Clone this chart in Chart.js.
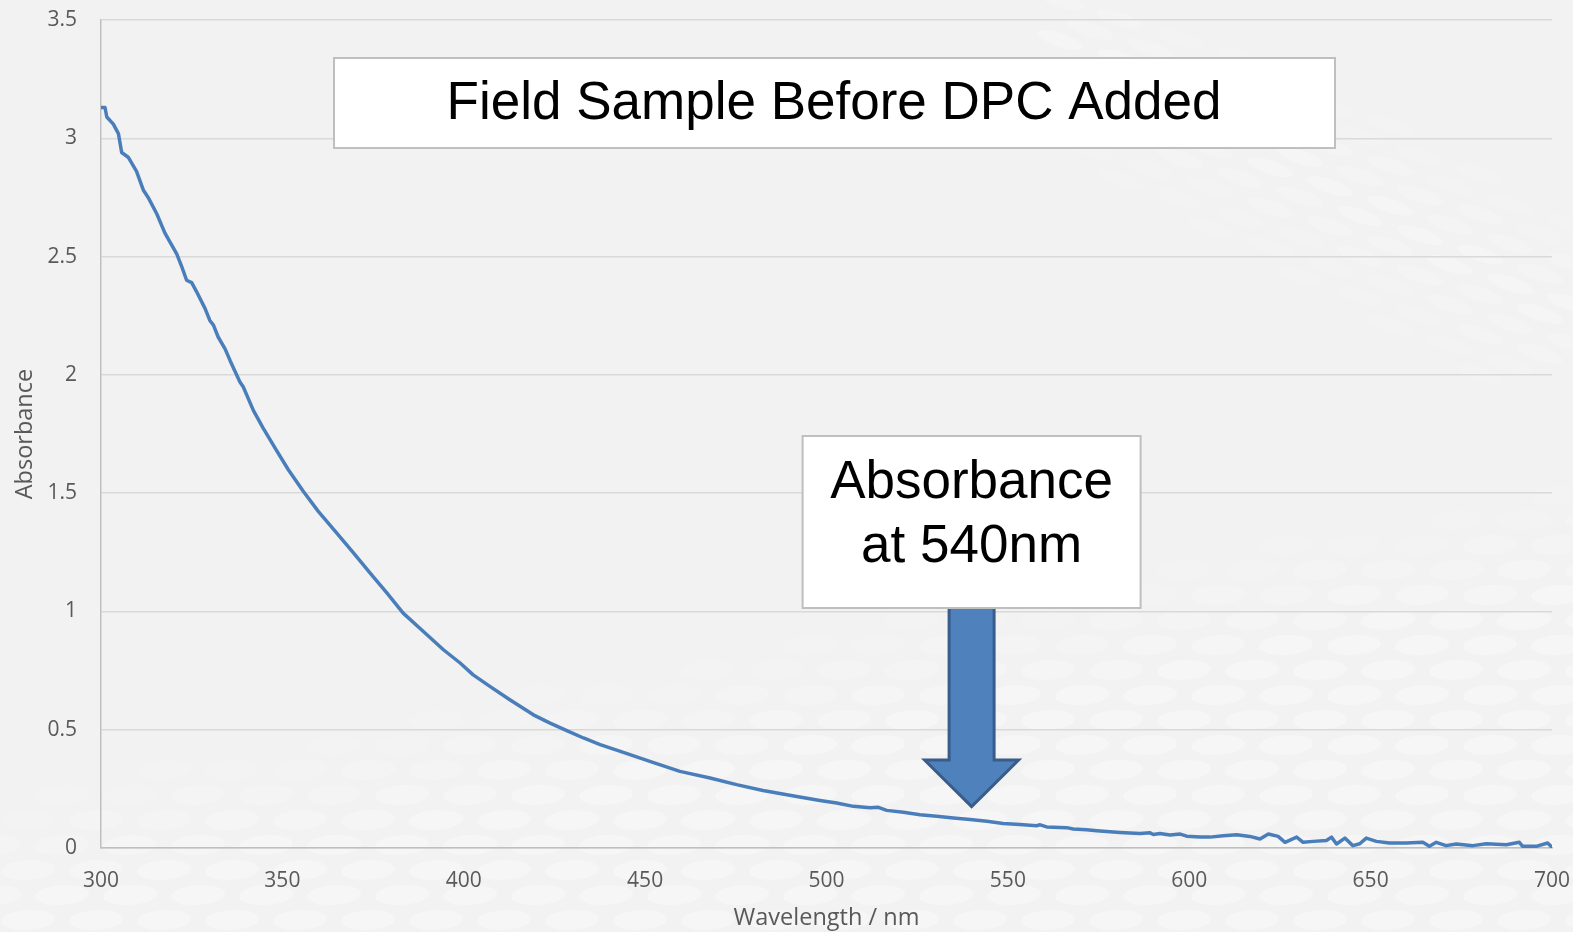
<!DOCTYPE html>
<html>
<head>
<meta charset="utf-8">
<script src="https://cdn.jsdelivr.net/npm/chart.js@4.4.1/dist/chart.umd.min.js"></script>
<style>
  html, body { margin: 0; padding: 0; background: #F2F2F2; overflow: hidden; }
  #wrap { width: 1573px; height: 932px; position: relative; }
</style>
</head>
<body>
<div id="wrap"><canvas id="spectrum" width="1573" height="932"></canvas></div>
<script>
// UV-Vis spectrum of the field sample (wavelength in nm, absorbance)
const wavelengths = [
  300.0, 301.1, 301.6, 303.4, 304.8, 305.7, 307.5, 309.8, 311.7, 313.0,
  315.4, 317.6, 320.9, 322.2, 323.6, 325.0, 326.4, 328.7, 330.0, 331.0,
  332.3, 334.2, 335.6, 338.3, 339.2, 342.0, 344.7, 348.0, 351.6, 355.8,
  359.9, 365.0, 369.6, 374.2, 378.8, 383.3, 388.8, 394.4, 399.0, 402.6,
  407.2, 412.7, 419.2, 423.8, 428.4, 433.0, 437.6, 444.0, 451.3, 459.6,
  467.9, 475.2, 482.5, 491.8, 498.2, 502.8, 507.4, 512.0, 514.3, 516.6,
  521.2, 525.8, 530.4, 535.0, 539.6, 544.2, 548.7, 553.3, 557.9, 558.9,
  560.7, 566.2, 568.0, 571.7, 574.5, 580.9, 586.4, 589.2, 590.1, 591.9,
  594.7, 597.5, 599.3, 603.0, 605.7, 609.4, 613.1, 616.7, 619.5, 621.8,
  624.5, 626.4, 629.6, 631.4, 634.2, 637.8, 639.2, 640.6, 642.9, 645.1,
  647.0, 648.8, 651.6, 655.2, 659.8, 664.4, 666.2, 668.1, 670.8, 673.6,
  678.2, 681.9, 687.4, 691.0, 691.9, 695.6, 698.8, 700.0
];
const absorbance = [
  3.13, 3.13, 3.09, 3.06, 3.02, 2.94, 2.92, 2.86, 2.78, 2.75,
  2.68, 2.60, 2.51, 2.46, 2.40, 2.39, 2.35, 2.28, 2.23, 2.21,
  2.16, 2.11, 2.06, 1.97, 1.95, 1.85, 1.775, 1.69, 1.60, 1.507,
  1.423, 1.331, 1.247, 1.162, 1.078, 0.993, 0.916, 0.838, 0.782, 0.732,
  0.683, 0.627, 0.563, 0.528, 0.496, 0.465, 0.437, 0.404, 0.366, 0.324,
  0.296, 0.268, 0.243, 0.218, 0.201, 0.190, 0.176, 0.170, 0.172, 0.159,
  0.151, 0.141, 0.134, 0.127, 0.120, 0.113, 0.104, 0.099, 0.094, 0.098,
  0.089, 0.086, 0.080, 0.077, 0.073, 0.066, 0.061, 0.064, 0.057, 0.061,
  0.055, 0.059, 0.050, 0.046, 0.046, 0.052, 0.056, 0.049, 0.038, 0.059,
  0.049, 0.024, 0.046, 0.024, 0.028, 0.032, 0.046, 0.017, 0.042, 0.010,
  0.018, 0.042, 0.028, 0.021, 0.021, 0.024, 0.007, 0.024, 0.010, 0.017,
  0.010, 0.018, 0.014, 0.024, 0.007, 0.007, 0.021, 0.003
];

const xTickValues = [300, 350, 400, 450, 500, 550, 600, 650, 700];
const yTickValues = [0, 0.5, 1, 1.5, 2, 2.5, 3, 3.5];

const chartTitle = 'Field Sample Before DPC Added';
const calloutLines = ['Absorbance', 'at 540nm'];
const calloutWavelength = 540;
const xAxisTitle = 'Wavelength / nm';
const yAxisTitle = 'Absorbance';

const points = wavelengths.map((w, i) => ({ x: w, y: absorbance[i] }));

// Light grey backdrop with a faint field of white ovals
function paintBackdrop(ctx, w, h) {
  ctx.save();
  ctx.fillStyle = '#F2F2F2';
  ctx.fillRect(0, 0, w, h);
  // lower surface
  for (let row = 0; ; row++) {
    const y = 470 + row * 25;
    if (y > h + 20) break;
    const shift = (row % 2) * 34;
    for (let x = -40 + shift; x < w + 60; x += 68) {
      const edge = 770 - x * 0.2;
      const t = (y - edge) / 140;
      if (t <= 0) continue;
      ctx.fillStyle = 'rgba(255,255,255,' + (Math.min(1, t) * 0.32).toFixed(3) + ')';
      ctx.beginPath();
      ctx.ellipse(x, y, 27, 10, -0.06, 0, Math.PI * 2);
      ctx.fill();
    }
  }
  // upper-right sweep
  for (let row = 0; row < 16; row++) {
    const y0 = row * 20;
    const shift = (row % 2) * 30;
    for (let x = 1060 + shift; x < w + 40; x += 60) {
      const y = y0 + (x - 1060) * 0.32;
      const edge = (x - 1060) * 0.55 + 40;
      const d = Math.abs(y - edge);
      if (d > 150 || y > 380) continue;
      const a = (1 - d / 150) * 0.25;
      ctx.fillStyle = 'rgba(255,255,255,' + a.toFixed(3) + ')';
      ctx.beginPath();
      ctx.ellipse(x, y, 24, 7, 0.32, 0, Math.PI * 2);
      ctx.fill();
    }
  }
  ctx.restore();
}

function whiteBox(ctx, x, y, w, h) {
  ctx.fillStyle = '#FFFFFF';
  ctx.fillRect(x, y, w, h);
  ctx.strokeStyle = '#BFBFBF';
  ctx.lineWidth = 2;
  ctx.strokeRect(x, y, w, h);
}

const backdropPlugin = {
  id: 'backdrop',
  beforeDraw(chart) {
    paintBackdrop(chart.ctx, chart.width, chart.height);
  }
};

// Title box and the 540 nm callout with its arrow
const calloutPlugin = {
  id: 'callouts',
  afterDraw(chart) {
    const ctx = chart.ctx;
    const xs = chart.scales.x;
    const ys = chart.scales.y;
    ctx.save();

    // title box
    whiteBox(ctx, 334, 58, 1001, 90);
    ctx.fillStyle = '#000000';
    ctx.font = '53px "Liberation Sans", Arial, sans-serif';
    ctx.textAlign = 'center';
    ctx.textBaseline = 'alphabetic';
    ctx.fillText(chartTitle, 834, 119);

    // callout arrow
    const cx = xs.getPixelForValue(calloutWavelength);
    const tipY = ys.getPixelForValue(0.175);
    const boxTop = 436, boxBottom = 608;
    const headBase = 760;
    ctx.beginPath();
    ctx.moveTo(cx - 22.5, boxBottom - 2);
    ctx.lineTo(cx + 22.5, boxBottom - 2);
    ctx.lineTo(cx + 22.5, headBase);
    ctx.lineTo(cx + 47, headBase);
    ctx.lineTo(cx, tipY);
    ctx.lineTo(cx - 47, headBase);
    ctx.lineTo(cx - 22.5, headBase);
    ctx.closePath();
    ctx.fillStyle = '#4F81BD';
    ctx.fill();
    ctx.strokeStyle = '#385D8A';
    ctx.lineWidth = 3;
    ctx.lineJoin = 'miter';
    ctx.stroke();

    // callout box
    whiteBox(ctx, cx - 169, boxTop, 338, boxBottom - boxTop);
    ctx.fillStyle = '#000000';
    ctx.font = '53px "Liberation Sans", Arial, sans-serif';
    ctx.fillText(calloutLines[0], cx, 498);
    ctx.fillText(calloutLines[1], cx, 562);

    ctx.restore();
  }
};

// Fixed axis bands: no extra room reserved for overhanging tick labels
function clearScalePadding(scale) {
  scale.paddingTop = 0;
  scale.paddingBottom = 0;
  scale.paddingLeft = 0;
  scale.paddingRight = 0;
}

const tickFont = { family: '"Open Sans", "Noto Sans", sans-serif', size: 21 };
const titleFont = { family: '"Open Sans", "Noto Sans", sans-serif', size: 23.5 };

new Chart(document.getElementById('spectrum'), {
  type: 'line',
  data: {
    datasets: [{
      data: points,
      borderColor: '#4A7EBB',
      borderWidth: 3.5,
      pointRadius: 0,
      tension: 0,
      borderJoinStyle: 'round',
      borderCapStyle: 'round',
      fill: false
    }]
  },
  options: {
    responsive: false,
    animation: false,
    devicePixelRatio: 1,
    layout: { autoPadding: false, padding: { left: 0, top: 20, right: 21, bottom: 0 } },
    plugins: {
      legend: { display: false },
      tooltip: { enabled: false }
    },
    scales: {
      x: {
        type: 'linear',
        min: 300,
        max: 700,
        afterBuildTicks(scale) { scale.ticks = xTickValues.map(v => ({ value: v })); },
        afterFit(scale) { scale.height = 84; clearScalePadding(scale); },
        grid: { display: false, drawTicks: false },
        border: { display: true, color: '#BFBFBF', width: 1.5 },
        ticks: {
          color: '#595959',
          font: tickFont,
          padding: 20,
          maxRotation: 0,
          autoSkip: false,
          callback: v => String(v)
        },
        title: {
          display: true,
          text: xAxisTitle,
          color: '#595959',
          font: titleFont,
          padding: { top: 0, bottom: 0 }
        }
      },
      y: {
        type: 'linear',
        min: 0,
        max: 3.5,
        afterBuildTicks(scale) { scale.ticks = yTickValues.map(v => ({ value: v })); },
        afterFit(scale) { scale.width = 101; clearScalePadding(scale); },
        grid: { color: '#D9D9D9', lineWidth: 1.5, drawTicks: false },
        border: { display: true, color: '#BFBFBF', width: 1.5 },
        ticks: {
          color: '#595959',
          font: tickFont,
          padding: 24,
          autoSkip: false,
          callback: v => String(v)
        },
        title: {
          display: true,
          text: yAxisTitle,
          color: '#595959',
          font: titleFont,
          padding: { top: 11, bottom: 0 }
        }
      }
    }
  },
  plugins: [backdropPlugin, calloutPlugin]
});
</script>
</body>
</html>
